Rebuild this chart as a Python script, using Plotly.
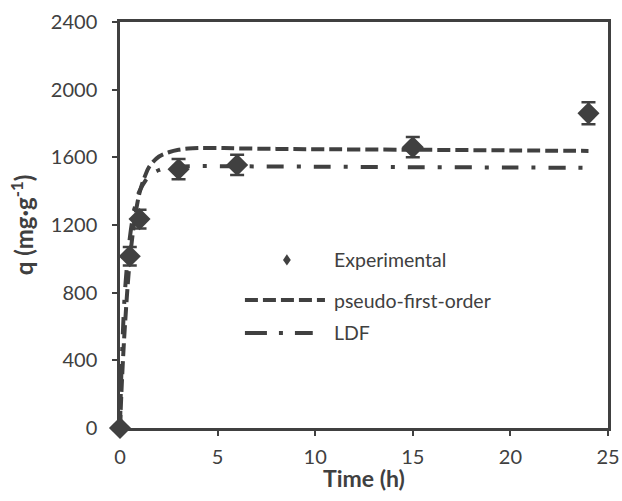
import plotly.graph_objects as go

# Experimental data
exp_t = [0, 0.5, 1, 3, 6, 15, 24]
exp_q = [0, 1015, 1235, 1530, 1555, 1660, 1860]
exp_err = [0, 55, 55, 60, 60, 60, 65]

# Pseudo-first-order curve
pfo_t = [0, 0.1, 0.25, 0.5, 0.75, 1, 1.25, 1.5, 2, 2.5, 3, 3.5, 4, 5, 6, 8, 10, 15, 20, 24]
pfo_q = [0, 280, 600, 990, 1230, 1390, 1480, 1545, 1605, 1630, 1645, 1652, 1655, 1655, 1653, 1650, 1648, 1645, 1641, 1638]

# LDF curve
ldf_t = [0, 0.05, 0.1, 0.25, 0.5, 0.75, 1, 1.5, 2, 2.5, 3, 4, 5, 6, 10, 15, 20, 24]
ldf_q = [0, 250, 420, 800, 1120, 1300, 1400, 1490, 1525, 1540, 1545, 1548, 1548, 1547, 1545, 1542, 1540, 1538]

xticks = [0, 5, 10, 15, 20, 25]
yticks = [0, 400, 800, 1200, 1600, 2000, 2400]

C = "#404040"
FONT = "Lato"

fig = go.Figure()
fig.add_trace(go.Scatter(x=pfo_t, y=pfo_q, mode="lines", line=dict(color=C, width=4, dash="13px,5px"),
                         line_shape="spline", showlegend=False))
fig.add_trace(go.Scatter(x=ldf_t, y=ldf_q, mode="lines", line=dict(color=C, width=4, dash="17px,13px,4px,13px"),
                         line_shape="spline", showlegend=False))
fig.add_trace(go.Scatter(x=exp_t, y=exp_q, mode="markers",
                         marker=dict(symbol="diamond", size=17, color=C),
                         error_y=dict(type="data", array=exp_err, color=C, thickness=2.5, width=7),
                         cliponaxis=False, showlegend=False))

# Legend built from shapes + text
L = dict(xref="paper", yref="paper")
fig.add_shape(type="path", path="M 0.342 0.428 L 0.350 0.414 L 0.342 0.400 L 0.334 0.414 Z",
              fillcolor=C, line=dict(width=0), **L)
fig.add_shape(type="line", x0=0.256, x1=0.420, y0=0.315, y1=0.315,
              line=dict(color=C, width=4, dash="13px,5px"), **L)
fig.add_shape(type="line", x0=0.256, x1=0.395, y0=0.234, y1=0.234,
              line=dict(color=C, width=4, dash="22px,12px,4px,12px"), **L)
for yy, txt in [(0.414, "Experimental"), (0.315, "pseudo-first-order"), (0.234, "LDF")]:
    fig.add_annotation(x=0.434, y=yy, text=txt, showarrow=False, xanchor="left", yanchor="middle",
                       font=dict(family=FONT, size=19.5, color=C), **L)

# x-axis title placed as annotation just below tick labels
fig.add_annotation(x=0.5, y=-0.123, text="<b>Time (h)</b>", showarrow=False, xanchor="center",
                   yanchor="middle", font=dict(family=FONT, size=23, color=C), **L)

axis_common = dict(showline=True, linecolor=C, linewidth=2.5, mirror=True, showgrid=False, zeroline=False,
                   ticks="outside", ticklen=5, tickwidth=2, tickcolor=C, automargin=False,
                   tickfont=dict(family=FONT, size=20, color=C))
fig.update_xaxes(range=[0, 25], tickvals=xticks, ticklabelstandoff=4, **axis_common)
fig.update_yaxes(range=[0, 2400], tickvals=yticks, ticklabelstandoff=11,
                 title=dict(text="<b>q (mg·g<sup>-1</sup>)</b>", font=dict(family=FONT, size=24, color=C), standoff=11),
                 **axis_common)

fig.update_layout(width=622, height=501, margin=dict(l=120, r=14, t=22, b=73),
                  plot_bgcolor="white", paper_bgcolor="white", showlegend=False)
fig.write_html("out.html", config={"displayModeBar": False},
               post_script="document.body.style.margin='0';document.body.style.overflow='hidden';")
